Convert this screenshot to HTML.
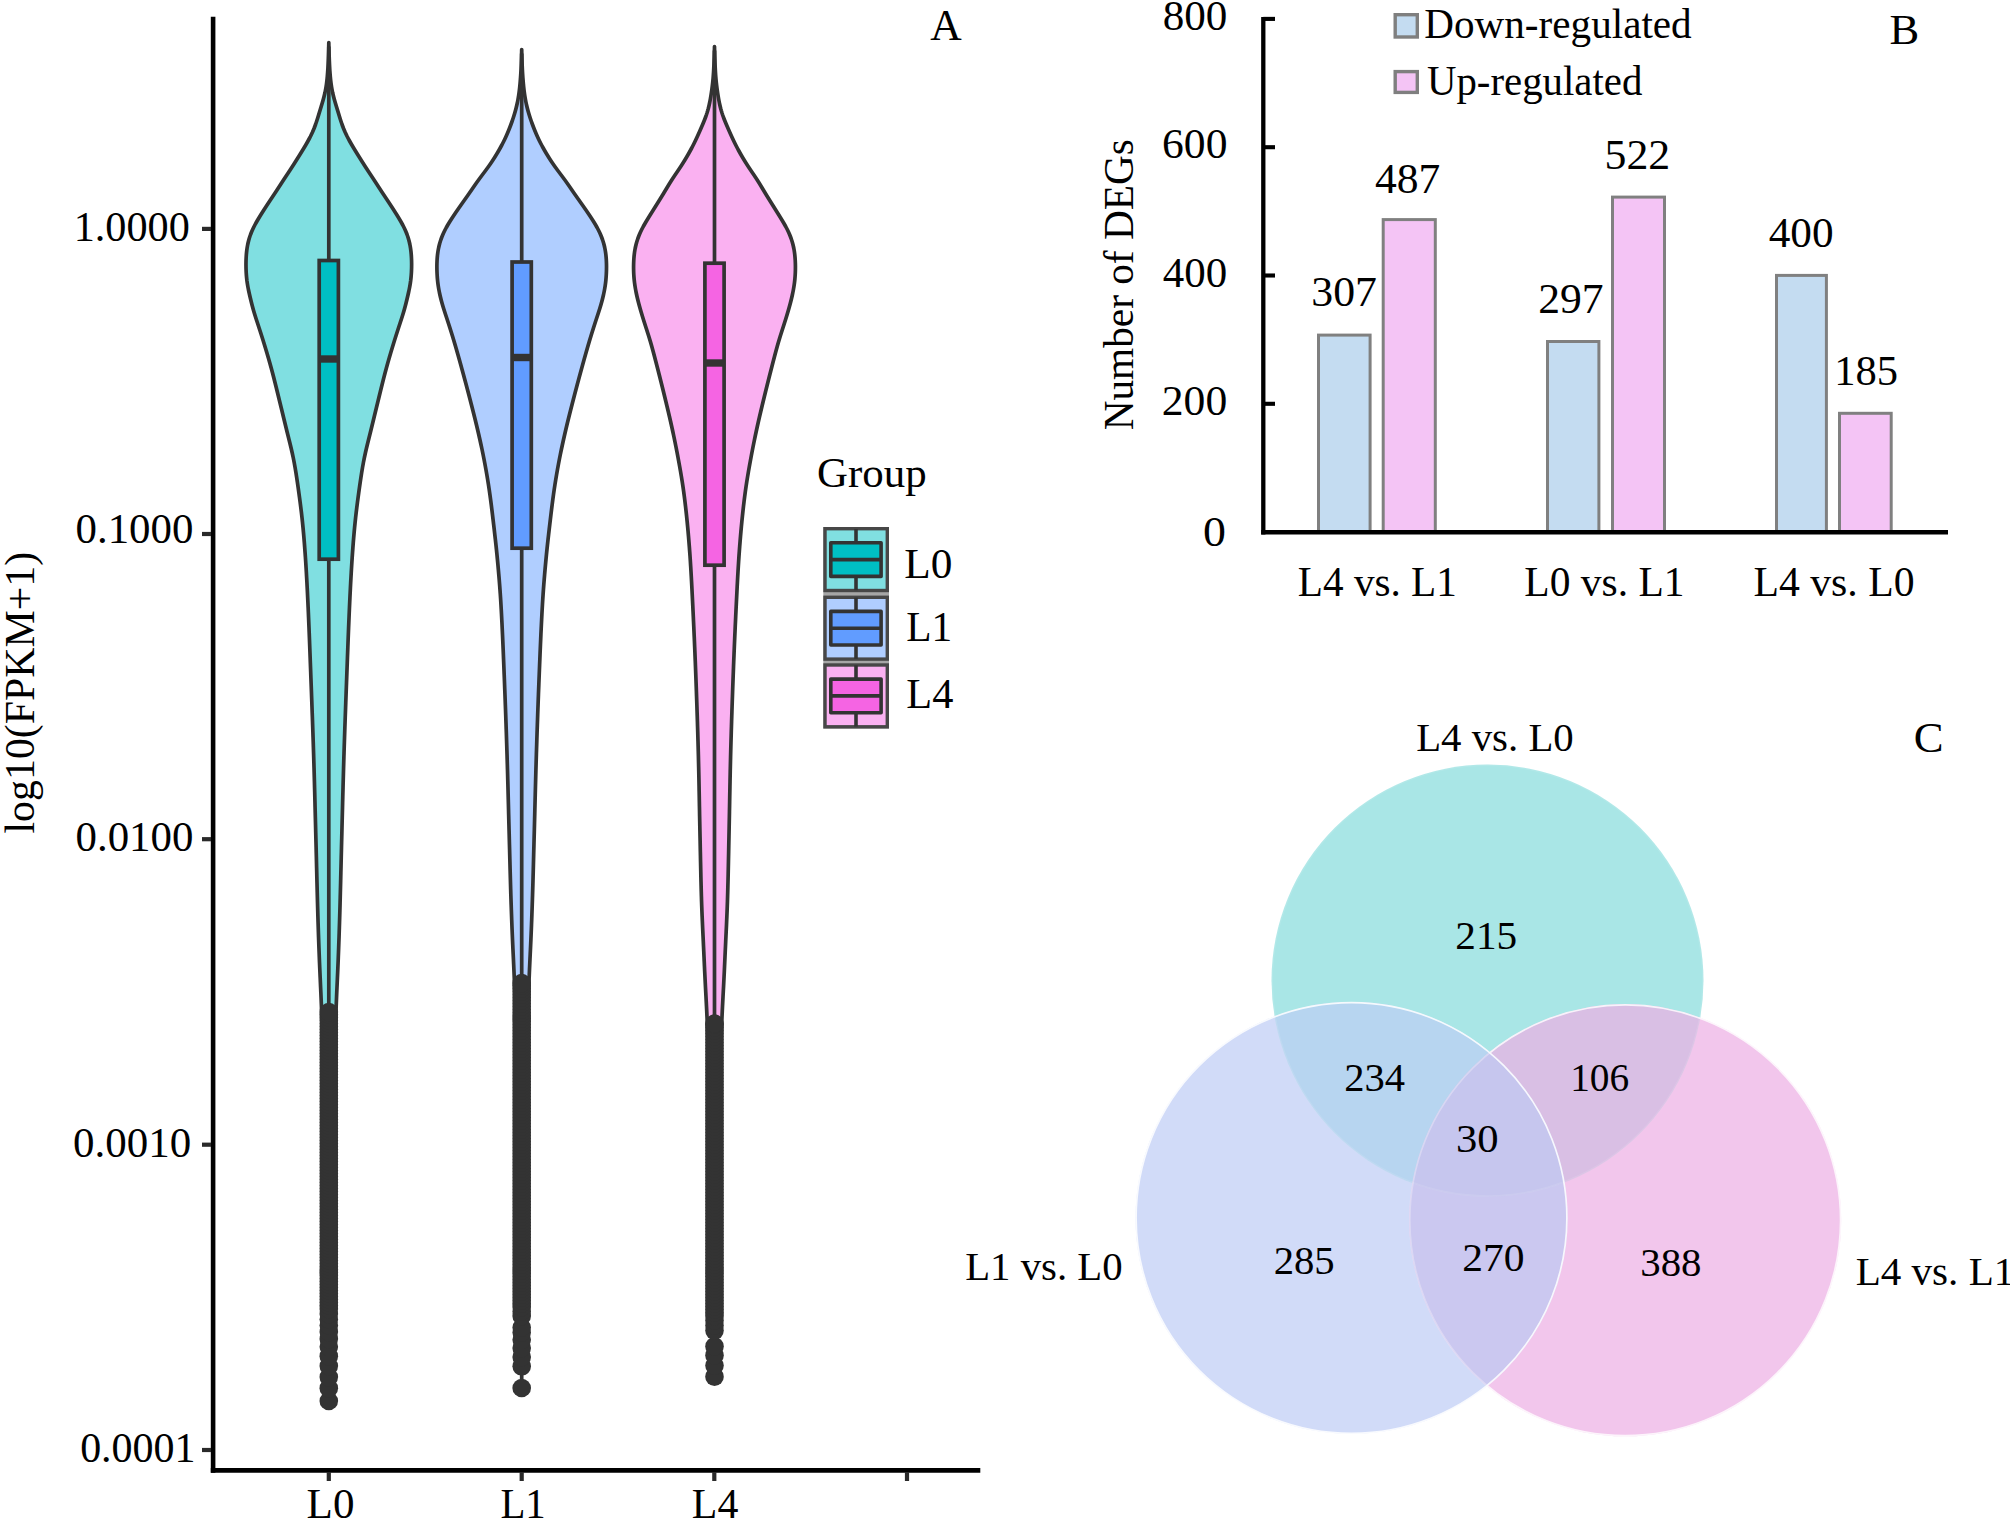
<!DOCTYPE html>
<html lang="en"><head><meta charset="utf-8"><title>Figure</title>
<style>html,body{margin:0;padding:0;background:#fff;}body{width:2010px;height:1522px;overflow:hidden;}svg{display:block;}text{font-family:'Liberation Serif', serif;fill:#000;}</style></head><body>
<svg width="2010" height="1522" viewBox="0 0 2010 1522">
<rect width="2010" height="1522" fill="#fff"/>
<g id="panelA">
<path d="M328.80,42.50 L328.83,44.50 L328.88,46.50 L328.92,48.50 L328.98,50.50 L329.04,52.50 L329.10,54.50 L329.17,56.50 L329.25,58.50 L329.32,60.50 L329.41,62.50 L329.50,64.50 L329.60,66.50 L329.71,68.50 L329.83,70.50 L329.97,72.50 L330.12,74.50 L330.28,76.50 L330.47,78.50 L330.68,80.50 L330.92,82.50 L331.19,84.50 L331.49,86.50 L331.83,88.50 L332.20,90.50 L332.60,92.50 L333.06,94.50 L333.55,96.50 L334.07,98.50 L334.63,100.50 L335.21,102.50 L335.81,104.50 L336.41,106.50 L337.02,108.50 L337.63,110.50 L338.24,112.50 L338.85,114.50 L339.45,116.50 L340.07,118.50 L340.71,120.50 L341.37,122.50 L342.06,124.50 L342.80,126.50 L343.57,128.50 L344.40,130.50 L345.28,132.50 L346.22,134.50 L347.20,136.50 L348.24,138.50 L349.32,140.50 L350.43,142.50 L351.58,144.50 L352.76,146.50 L353.96,148.50 L355.18,150.50 L356.41,152.50 L357.64,154.50 L358.89,156.50 L360.14,158.50 L361.40,160.50 L362.66,162.50 L363.93,164.50 L365.21,166.50 L366.51,168.50 L367.81,170.50 L369.13,172.50 L370.46,174.50 L371.79,176.50 L373.11,178.50 L374.42,180.50 L375.72,182.50 L377.02,184.50 L378.31,186.50 L379.61,188.50 L380.91,190.50 L382.22,192.50 L383.55,194.50 L384.88,196.50 L386.21,198.50 L387.54,200.50 L388.87,202.50 L390.18,204.50 L391.49,206.50 L392.79,208.50 L394.07,210.50 L395.34,212.50 L396.60,214.50 L397.83,216.50 L399.04,218.50 L400.23,220.50 L401.37,222.50 L402.47,224.50 L403.52,226.50 L404.50,228.50 L405.42,230.50 L406.27,232.50 L407.04,234.50 L407.75,236.50 L408.38,238.50 L408.94,240.50 L409.44,242.50 L409.88,244.50 L410.25,246.50 L410.57,248.50 L410.84,250.50 L411.06,252.50 L411.24,254.50 L411.38,256.50 L411.48,258.50 L411.56,260.50 L411.60,262.50 L411.62,264.50 L411.60,266.50 L411.56,268.50 L411.49,270.50 L411.40,272.50 L411.27,274.50 L411.11,276.50 L410.91,278.50 L410.69,280.50 L410.42,282.50 L410.11,284.50 L409.77,286.50 L409.39,288.50 L408.98,290.50 L408.55,292.50 L408.10,294.50 L407.64,296.50 L407.16,298.50 L406.68,300.50 L406.18,302.50 L405.68,304.50 L405.15,306.50 L404.61,308.50 L404.05,310.50 L403.46,312.50 L402.85,314.50 L402.23,316.50 L401.59,318.50 L400.94,320.50 L400.28,322.50 L399.63,324.50 L398.97,326.50 L398.32,328.50 L397.67,330.50 L397.02,332.50 L396.38,334.50 L395.74,336.50 L395.11,338.50 L394.48,340.50 L393.86,342.50 L392.33,347.50 L390.82,352.50 L389.35,357.50 L387.92,362.50 L386.53,367.50 L385.18,372.50 L383.87,377.50 L382.61,382.50 L381.36,387.50 L380.13,392.50 L378.91,397.50 L377.69,402.50 L376.46,407.50 L375.24,412.50 L374.03,417.50 L372.81,422.50 L371.59,427.50 L370.36,432.50 L369.11,437.50 L367.86,442.50 L366.64,447.50 L365.48,452.50 L364.40,457.50 L363.42,462.50 L362.52,467.50 L361.69,472.50 L360.92,477.50 L360.18,482.50 L359.46,487.50 L358.77,492.50 L358.09,497.50 L357.43,502.50 L356.80,507.50 L356.19,512.50 L355.62,517.50 L355.09,522.50 L354.59,527.50 L354.13,532.50 L353.69,537.50 L353.28,542.50 L352.90,547.50 L352.53,552.50 L352.18,557.50 L351.85,562.50 L351.54,567.50 L351.24,572.50 L350.96,577.50 L350.68,582.50 L350.42,587.50 L350.17,592.50 L349.93,597.50 L349.69,602.50 L349.46,607.50 L349.24,612.50 L349.03,617.50 L348.82,622.50 L348.61,627.50 L348.41,632.50 L348.21,637.50 L348.02,642.50 L347.83,647.50 L347.64,652.50 L347.45,657.50 L347.27,662.50 L347.08,667.50 L346.89,672.50 L346.71,677.50 L346.52,682.50 L346.33,687.50 L346.14,692.50 L345.96,697.50 L345.77,702.50 L345.59,707.50 L345.41,712.50 L345.22,717.50 L345.05,722.50 L344.87,727.50 L344.70,732.50 L344.53,737.50 L344.36,742.50 L344.20,747.50 L344.04,752.50 L343.88,757.50 L343.73,762.50 L343.58,767.50 L343.44,772.50 L343.30,777.50 L343.16,782.50 L343.03,787.50 L342.89,792.50 L342.76,797.50 L342.63,802.50 L342.51,807.50 L342.38,812.50 L342.25,817.50 L342.12,822.50 L341.99,827.50 L341.87,832.50 L341.74,837.50 L341.61,842.50 L341.48,847.50 L341.36,852.50 L341.23,857.50 L341.11,862.50 L340.99,867.50 L340.86,872.50 L340.74,877.50 L340.62,882.50 L340.49,887.50 L340.36,892.50 L340.23,897.50 L340.10,902.50 L339.96,907.50 L339.82,912.50 L339.67,917.50 L339.52,922.50 L339.36,927.50 L339.20,932.50 L339.03,937.50 L338.85,942.50 L338.67,947.50 L338.48,952.50 L338.29,957.50 L338.09,962.50 L337.88,967.50 L337.66,972.50 L337.43,977.50 L337.21,982.50 L336.98,987.50 L336.75,992.50 L336.54,997.50 L336.33,1002.50 L336.13,1007.50 L335.94,1012.50 L335.75,1017.50 L335.56,1022.50 L335.38,1027.50 L335.20,1032.50 L335.03,1037.50 L334.86,1042.50 L334.70,1047.50 L334.55,1052.50 L334.44,1057.50 L334.40,1059.50 L323.20,1059.50 L323.16,1057.50 L323.05,1052.50 L322.90,1047.50 L322.74,1042.50 L322.57,1037.50 L322.40,1032.50 L322.22,1027.50 L322.04,1022.50 L321.85,1017.50 L321.66,1012.50 L321.47,1007.50 L321.27,1002.50 L321.06,997.50 L320.85,992.50 L320.62,987.50 L320.39,982.50 L320.17,977.50 L319.94,972.50 L319.72,967.50 L319.51,962.50 L319.31,957.50 L319.12,952.50 L318.93,947.50 L318.75,942.50 L318.57,937.50 L318.40,932.50 L318.24,927.50 L318.08,922.50 L317.93,917.50 L317.78,912.50 L317.64,907.50 L317.50,902.50 L317.37,897.50 L317.24,892.50 L317.11,887.50 L316.98,882.50 L316.86,877.50 L316.74,872.50 L316.61,867.50 L316.49,862.50 L316.37,857.50 L316.24,852.50 L316.12,847.50 L315.99,842.50 L315.86,837.50 L315.73,832.50 L315.61,827.50 L315.48,822.50 L315.35,817.50 L315.22,812.50 L315.09,807.50 L314.97,802.50 L314.84,797.50 L314.71,792.50 L314.57,787.50 L314.44,782.50 L314.30,777.50 L314.16,772.50 L314.02,767.50 L313.87,762.50 L313.72,757.50 L313.56,752.50 L313.40,747.50 L313.24,742.50 L313.07,737.50 L312.90,732.50 L312.73,727.50 L312.55,722.50 L312.38,717.50 L312.19,712.50 L312.01,707.50 L311.83,702.50 L311.64,697.50 L311.46,692.50 L311.27,687.50 L311.08,682.50 L310.89,677.50 L310.71,672.50 L310.52,667.50 L310.33,662.50 L310.15,657.50 L309.96,652.50 L309.77,647.50 L309.58,642.50 L309.39,637.50 L309.19,632.50 L308.99,627.50 L308.78,622.50 L308.57,617.50 L308.36,612.50 L308.14,607.50 L307.91,602.50 L307.67,597.50 L307.43,592.50 L307.18,587.50 L306.92,582.50 L306.64,577.50 L306.36,572.50 L306.06,567.50 L305.75,562.50 L305.42,557.50 L305.07,552.50 L304.70,547.50 L304.32,542.50 L303.91,537.50 L303.47,532.50 L303.01,527.50 L302.51,522.50 L301.98,517.50 L301.41,512.50 L300.80,507.50 L300.17,502.50 L299.51,497.50 L298.83,492.50 L298.14,487.50 L297.42,482.50 L296.68,477.50 L295.91,472.50 L295.08,467.50 L294.18,462.50 L293.20,457.50 L292.12,452.50 L290.96,447.50 L289.74,442.50 L288.49,437.50 L287.24,432.50 L286.01,427.50 L284.79,422.50 L283.57,417.50 L282.36,412.50 L281.14,407.50 L279.91,402.50 L278.69,397.50 L277.47,392.50 L276.24,387.50 L274.99,382.50 L273.73,377.50 L272.42,372.50 L271.07,367.50 L269.68,362.50 L268.25,357.50 L266.78,352.50 L265.27,347.50 L263.74,342.50 L263.12,340.50 L262.49,338.50 L261.86,336.50 L261.22,334.50 L260.58,332.50 L259.93,330.50 L259.28,328.50 L258.63,326.50 L257.97,324.50 L257.32,322.50 L256.66,320.50 L256.01,318.50 L255.37,316.50 L254.75,314.50 L254.14,312.50 L253.55,310.50 L252.99,308.50 L252.45,306.50 L251.92,304.50 L251.42,302.50 L250.92,300.50 L250.44,298.50 L249.96,296.50 L249.50,294.50 L249.05,292.50 L248.62,290.50 L248.21,288.50 L247.83,286.50 L247.49,284.50 L247.18,282.50 L246.91,280.50 L246.69,278.50 L246.49,276.50 L246.33,274.50 L246.20,272.50 L246.11,270.50 L246.04,268.50 L246.00,266.50 L245.98,264.50 L246.00,262.50 L246.04,260.50 L246.12,258.50 L246.22,256.50 L246.36,254.50 L246.54,252.50 L246.76,250.50 L247.03,248.50 L247.35,246.50 L247.72,244.50 L248.16,242.50 L248.66,240.50 L249.22,238.50 L249.85,236.50 L250.56,234.50 L251.33,232.50 L252.18,230.50 L253.10,228.50 L254.08,226.50 L255.13,224.50 L256.23,222.50 L257.37,220.50 L258.56,218.50 L259.77,216.50 L261.00,214.50 L262.26,212.50 L263.53,210.50 L264.81,208.50 L266.11,206.50 L267.42,204.50 L268.73,202.50 L270.06,200.50 L271.39,198.50 L272.72,196.50 L274.05,194.50 L275.38,192.50 L276.69,190.50 L277.99,188.50 L279.29,186.50 L280.58,184.50 L281.88,182.50 L283.18,180.50 L284.49,178.50 L285.81,176.50 L287.14,174.50 L288.47,172.50 L289.79,170.50 L291.09,168.50 L292.39,166.50 L293.67,164.50 L294.94,162.50 L296.20,160.50 L297.46,158.50 L298.71,156.50 L299.96,154.50 L301.19,152.50 L302.42,150.50 L303.64,148.50 L304.84,146.50 L306.02,144.50 L307.17,142.50 L308.28,140.50 L309.36,138.50 L310.40,136.50 L311.38,134.50 L312.32,132.50 L313.20,130.50 L314.03,128.50 L314.80,126.50 L315.54,124.50 L316.23,122.50 L316.89,120.50 L317.53,118.50 L318.15,116.50 L318.75,114.50 L319.36,112.50 L319.97,110.50 L320.58,108.50 L321.19,106.50 L321.79,104.50 L322.39,102.50 L322.97,100.50 L323.53,98.50 L324.05,96.50 L324.54,94.50 L325.00,92.50 L325.40,90.50 L325.77,88.50 L326.11,86.50 L326.41,84.50 L326.68,82.50 L326.92,80.50 L327.13,78.50 L327.32,76.50 L327.48,74.50 L327.63,72.50 L327.77,70.50 L327.89,68.50 L328.00,66.50 L328.10,64.50 L328.19,62.50 L328.28,60.50 L328.35,58.50 L328.43,56.50 L328.50,54.50 L328.56,52.50 L328.62,50.50 L328.68,48.50 L328.72,46.50 L328.77,44.50 Z" fill="#80DFE1" stroke="#333333" stroke-width="3.7" stroke-linejoin="round"/>
<line x1="328.80" y1="46.5" x2="328.80" y2="260.5" stroke="#333333" stroke-width="3.7"/>
<line x1="328.80" y1="559.2" x2="328.80" y2="1008.0" stroke="#333333" stroke-width="3.7"/>
<rect x="319.20" y="260.5" width="19.2" height="298.7" fill="#00BFC4" stroke="#333333" stroke-width="3.7" stroke-linejoin="miter"/>
<line x1="319.20" y1="359.0" x2="338.40" y2="359.0" stroke="#333333" stroke-width="7.4"/>
<line x1="328.80" y1="1003.0" x2="328.80" y2="1401.0" stroke="#333333" stroke-width="3.7"/>
<g fill="#333333"><circle cx="328.80" cy="1401.0" r="9.3"/><circle cx="328.80" cy="1388.2" r="9.3"/><circle cx="328.80" cy="1377.1" r="9.3"/><circle cx="328.80" cy="1366.0" r="9.3"/><circle cx="328.80" cy="1356.2" r="9.3"/><circle cx="328.80" cy="1346.8" r="9.3"/><circle cx="328.80" cy="1339.0" r="9.3"/><circle cx="328.80" cy="1332.0" r="9.3"/><circle cx="328.80" cy="1325.5" r="9.3"/><circle cx="328.80" cy="1319.5" r="9.3"/><circle cx="328.80" cy="1314.0" r="9.3"/><circle cx="328.80" cy="1309.0" r="9.3"/><circle cx="328.80" cy="1305.5" r="9.3"/><circle cx="328.80" cy="1302.5" r="9.3"/><circle cx="328.80" cy="1299.5" r="9.3"/><circle cx="328.80" cy="1296.5" r="9.3"/><circle cx="328.80" cy="1293.5" r="9.3"/><circle cx="328.80" cy="1290.5" r="9.3"/><circle cx="328.80" cy="1287.5" r="9.3"/><circle cx="328.80" cy="1284.5" r="9.3"/><circle cx="328.80" cy="1281.5" r="9.3"/><circle cx="328.80" cy="1278.5" r="9.3"/><circle cx="328.80" cy="1275.5" r="9.3"/><circle cx="328.80" cy="1272.5" r="9.3"/><circle cx="328.80" cy="1269.5" r="9.3"/><circle cx="328.80" cy="1266.5" r="9.3"/><circle cx="328.80" cy="1263.5" r="9.3"/><circle cx="328.80" cy="1260.5" r="9.3"/><circle cx="328.80" cy="1257.5" r="9.3"/><circle cx="328.80" cy="1254.5" r="9.3"/><circle cx="328.80" cy="1251.5" r="9.3"/><circle cx="328.80" cy="1248.5" r="9.3"/><circle cx="328.80" cy="1245.5" r="9.3"/><circle cx="328.80" cy="1242.5" r="9.3"/><circle cx="328.80" cy="1239.5" r="9.3"/><circle cx="328.80" cy="1236.5" r="9.3"/><circle cx="328.80" cy="1233.5" r="9.3"/><circle cx="328.80" cy="1230.5" r="9.3"/><circle cx="328.80" cy="1227.5" r="9.3"/><circle cx="328.80" cy="1224.5" r="9.3"/><circle cx="328.80" cy="1221.5" r="9.3"/><circle cx="328.80" cy="1218.5" r="9.3"/><circle cx="328.80" cy="1215.5" r="9.3"/><circle cx="328.80" cy="1212.5" r="9.3"/><circle cx="328.80" cy="1209.5" r="9.3"/><circle cx="328.80" cy="1206.5" r="9.3"/><circle cx="328.80" cy="1203.5" r="9.3"/><circle cx="328.80" cy="1200.5" r="9.3"/><circle cx="328.80" cy="1197.5" r="9.3"/><circle cx="328.80" cy="1194.5" r="9.3"/><circle cx="328.80" cy="1191.5" r="9.3"/><circle cx="328.80" cy="1188.5" r="9.3"/><circle cx="328.80" cy="1185.5" r="9.3"/><circle cx="328.80" cy="1182.5" r="9.3"/><circle cx="328.80" cy="1179.5" r="9.3"/><circle cx="328.80" cy="1176.5" r="9.3"/><circle cx="328.80" cy="1173.5" r="9.3"/><circle cx="328.80" cy="1170.5" r="9.3"/><circle cx="328.80" cy="1167.5" r="9.3"/><circle cx="328.80" cy="1164.5" r="9.3"/><circle cx="328.80" cy="1161.5" r="9.3"/><circle cx="328.80" cy="1158.5" r="9.3"/><circle cx="328.80" cy="1155.5" r="9.3"/><circle cx="328.80" cy="1152.5" r="9.3"/><circle cx="328.80" cy="1149.5" r="9.3"/><circle cx="328.80" cy="1146.5" r="9.3"/><circle cx="328.80" cy="1143.5" r="9.3"/><circle cx="328.80" cy="1140.5" r="9.3"/><circle cx="328.80" cy="1137.5" r="9.3"/><circle cx="328.80" cy="1134.5" r="9.3"/><circle cx="328.80" cy="1131.5" r="9.3"/><circle cx="328.80" cy="1128.5" r="9.3"/><circle cx="328.80" cy="1125.5" r="9.3"/><circle cx="328.80" cy="1122.5" r="9.3"/><circle cx="328.80" cy="1119.5" r="9.3"/><circle cx="328.80" cy="1116.5" r="9.3"/><circle cx="328.80" cy="1113.5" r="9.3"/><circle cx="328.80" cy="1110.5" r="9.3"/><circle cx="328.80" cy="1107.5" r="9.3"/><circle cx="328.80" cy="1104.5" r="9.3"/><circle cx="328.80" cy="1101.5" r="9.3"/><circle cx="328.80" cy="1098.5" r="9.3"/><circle cx="328.80" cy="1095.5" r="9.3"/><circle cx="328.80" cy="1092.5" r="9.3"/><circle cx="328.80" cy="1089.5" r="9.3"/><circle cx="328.80" cy="1086.5" r="9.3"/><circle cx="328.80" cy="1083.5" r="9.3"/><circle cx="328.80" cy="1080.5" r="9.3"/><circle cx="328.80" cy="1077.5" r="9.3"/><circle cx="328.80" cy="1074.5" r="9.3"/><circle cx="328.80" cy="1071.5" r="9.3"/><circle cx="328.80" cy="1068.5" r="9.3"/><circle cx="328.80" cy="1065.5" r="9.3"/><circle cx="328.80" cy="1062.5" r="9.3"/><circle cx="328.80" cy="1059.5" r="9.3"/><circle cx="328.80" cy="1056.5" r="9.3"/><circle cx="328.80" cy="1053.5" r="9.3"/><circle cx="328.80" cy="1050.5" r="9.3"/><circle cx="328.80" cy="1047.5" r="9.3"/><circle cx="328.80" cy="1044.5" r="9.3"/><circle cx="328.80" cy="1041.5" r="9.3"/><circle cx="328.80" cy="1038.5" r="9.3"/><circle cx="328.80" cy="1035.5" r="9.3"/><circle cx="328.80" cy="1032.5" r="9.3"/><circle cx="328.80" cy="1029.5" r="9.3"/><circle cx="328.80" cy="1026.5" r="9.3"/><circle cx="328.80" cy="1023.5" r="9.3"/><circle cx="328.80" cy="1020.5" r="9.3"/><circle cx="328.80" cy="1017.5" r="9.3"/><circle cx="328.80" cy="1014.5" r="9.3"/><circle cx="328.80" cy="1012.0" r="9.3"/></g>
<path d="M521.70,49.50 L521.74,51.50 L521.78,53.50 L521.83,55.50 L521.89,57.50 L521.96,59.50 L522.03,61.50 L522.10,63.50 L522.18,65.50 L522.27,67.50 L522.36,69.50 L522.47,71.50 L522.59,73.50 L522.72,75.50 L522.85,77.50 L523.00,79.50 L523.16,81.50 L523.33,83.50 L523.52,85.50 L523.72,87.50 L523.94,89.50 L524.19,91.50 L524.46,93.50 L524.76,95.50 L525.08,97.50 L525.43,99.50 L525.81,101.50 L526.22,103.50 L526.67,105.50 L527.15,107.50 L527.66,109.50 L528.21,111.50 L528.79,113.50 L529.40,115.50 L530.03,117.50 L530.70,119.50 L531.39,121.50 L532.11,123.50 L532.85,125.50 L533.61,127.50 L534.40,129.50 L535.22,131.50 L536.06,133.50 L536.93,135.50 L537.83,137.50 L538.77,139.50 L539.75,141.50 L540.77,143.50 L541.83,145.50 L542.92,147.50 L544.04,149.50 L545.19,151.50 L546.37,153.50 L547.59,155.50 L548.83,157.50 L550.10,159.50 L551.41,161.50 L552.76,163.50 L554.15,165.50 L555.58,167.50 L557.04,169.50 L558.53,171.50 L560.03,173.50 L561.54,175.50 L563.03,177.50 L564.51,179.50 L565.96,181.50 L567.38,183.50 L568.78,185.50 L570.16,187.50 L571.53,189.50 L572.91,191.50 L574.30,193.50 L575.70,195.50 L577.11,197.50 L578.53,199.50 L579.94,201.50 L581.36,203.50 L582.77,205.50 L584.17,207.50 L585.56,209.50 L586.94,211.50 L588.30,213.50 L589.64,215.50 L590.96,217.50 L592.26,219.50 L593.53,221.50 L594.76,223.50 L595.94,225.50 L597.07,227.50 L598.14,229.50 L599.14,231.50 L600.08,233.50 L600.94,235.50 L601.74,237.50 L602.46,239.50 L603.12,241.50 L603.72,243.50 L604.24,245.50 L604.70,247.50 L605.10,249.50 L605.44,251.50 L605.72,253.50 L605.96,255.50 L606.14,257.50 L606.29,259.50 L606.39,261.50 L606.46,263.50 L606.50,265.50 L606.50,267.50 L606.48,269.50 L606.42,271.50 L606.34,273.50 L606.23,275.50 L606.10,277.50 L605.93,279.50 L605.73,281.50 L605.49,283.50 L605.22,285.50 L604.91,287.50 L604.56,289.50 L604.18,291.50 L603.77,293.50 L603.33,295.50 L602.85,297.50 L602.36,299.50 L601.83,301.50 L601.27,303.50 L600.70,305.50 L600.09,307.50 L599.47,309.50 L598.83,311.50 L598.18,313.50 L597.53,315.50 L596.87,317.50 L596.21,319.50 L595.56,321.50 L594.91,323.50 L594.26,325.50 L593.62,327.50 L592.99,329.50 L592.36,331.50 L591.73,333.50 L591.11,335.50 L590.50,337.50 L589.89,339.50 L589.29,341.50 L588.70,343.50 L588.11,345.50 L587.53,347.50 L586.95,349.50 L585.52,354.50 L584.11,359.50 L582.72,364.50 L581.35,369.50 L579.98,374.50 L578.63,379.50 L577.28,384.50 L575.96,389.50 L574.64,394.50 L573.34,399.50 L572.05,404.50 L570.77,409.50 L569.50,414.50 L568.25,419.50 L567.03,424.50 L565.84,429.50 L564.68,434.50 L563.54,439.50 L562.44,444.50 L561.36,449.50 L560.33,454.50 L559.34,459.50 L558.39,464.50 L557.48,469.50 L556.60,474.50 L555.77,479.50 L554.97,484.50 L554.21,489.50 L553.50,494.50 L552.82,499.50 L552.17,504.50 L551.55,509.50 L550.94,514.50 L550.35,519.50 L549.76,524.50 L549.18,529.50 L548.61,534.50 L548.04,539.50 L547.49,544.50 L546.96,549.50 L546.45,554.50 L545.97,559.50 L545.50,564.50 L545.05,569.50 L544.62,574.50 L544.20,579.50 L543.80,584.50 L543.43,589.50 L543.08,594.50 L542.75,599.50 L542.45,604.50 L542.16,609.50 L541.89,614.50 L541.63,619.50 L541.38,624.50 L541.14,629.50 L540.90,634.50 L540.68,639.50 L540.46,644.50 L540.24,649.50 L540.03,654.50 L539.83,659.50 L539.62,664.50 L539.42,669.50 L539.22,674.50 L539.02,679.50 L538.83,684.50 L538.63,689.50 L538.44,694.50 L538.25,699.50 L538.07,704.50 L537.88,709.50 L537.70,714.50 L537.53,719.50 L537.35,724.50 L537.18,729.50 L537.01,734.50 L536.85,739.50 L536.69,744.50 L536.53,749.50 L536.37,754.50 L536.22,759.50 L536.07,764.50 L535.92,769.50 L535.78,774.50 L535.65,779.50 L535.51,784.50 L535.38,789.50 L535.25,794.50 L535.12,799.50 L534.99,804.50 L534.86,809.50 L534.74,814.50 L534.61,819.50 L534.48,824.50 L534.35,829.50 L534.21,834.50 L534.08,839.50 L533.95,844.50 L533.81,849.50 L533.68,854.50 L533.55,859.50 L533.42,864.50 L533.29,869.50 L533.15,874.50 L533.01,879.50 L532.87,884.50 L532.72,889.50 L532.57,894.50 L532.41,899.50 L532.24,904.50 L532.07,909.50 L531.89,914.50 L531.71,919.50 L531.52,924.50 L531.32,929.50 L531.11,934.50 L530.90,939.50 L530.67,944.50 L530.44,949.50 L530.20,954.50 L529.96,959.50 L529.73,964.50 L529.50,969.50 L529.29,974.50 L529.08,979.50 L528.87,984.50 L528.67,989.50 L528.48,994.50 L528.28,999.50 L528.10,1004.50 L527.91,1009.50 L527.73,1014.50 L527.56,1019.50 L527.42,1024.50 L527.31,1029.50 L516.09,1029.50 L515.98,1024.50 L515.84,1019.50 L515.67,1014.50 L515.49,1009.50 L515.30,1004.50 L515.12,999.50 L514.92,994.50 L514.73,989.50 L514.53,984.50 L514.32,979.50 L514.11,974.50 L513.90,969.50 L513.67,964.50 L513.44,959.50 L513.20,954.50 L512.96,949.50 L512.73,944.50 L512.50,939.50 L512.29,934.50 L512.08,929.50 L511.88,924.50 L511.69,919.50 L511.51,914.50 L511.33,909.50 L511.16,904.50 L510.99,899.50 L510.83,894.50 L510.68,889.50 L510.53,884.50 L510.39,879.50 L510.25,874.50 L510.11,869.50 L509.98,864.50 L509.85,859.50 L509.72,854.50 L509.59,849.50 L509.45,844.50 L509.32,839.50 L509.19,834.50 L509.05,829.50 L508.92,824.50 L508.79,819.50 L508.66,814.50 L508.54,809.50 L508.41,804.50 L508.28,799.50 L508.15,794.50 L508.02,789.50 L507.89,784.50 L507.75,779.50 L507.62,774.50 L507.48,769.50 L507.33,764.50 L507.18,759.50 L507.03,754.50 L506.87,749.50 L506.71,744.50 L506.55,739.50 L506.39,734.50 L506.22,729.50 L506.05,724.50 L505.87,719.50 L505.70,714.50 L505.52,709.50 L505.33,704.50 L505.15,699.50 L504.96,694.50 L504.77,689.50 L504.57,684.50 L504.38,679.50 L504.18,674.50 L503.98,669.50 L503.78,664.50 L503.57,659.50 L503.37,654.50 L503.16,649.50 L502.94,644.50 L502.72,639.50 L502.50,634.50 L502.26,629.50 L502.02,624.50 L501.77,619.50 L501.51,614.50 L501.24,609.50 L500.95,604.50 L500.65,599.50 L500.32,594.50 L499.97,589.50 L499.60,584.50 L499.20,579.50 L498.78,574.50 L498.35,569.50 L497.90,564.50 L497.43,559.50 L496.95,554.50 L496.44,549.50 L495.91,544.50 L495.36,539.50 L494.79,534.50 L494.22,529.50 L493.64,524.50 L493.05,519.50 L492.46,514.50 L491.85,509.50 L491.23,504.50 L490.58,499.50 L489.90,494.50 L489.19,489.50 L488.43,484.50 L487.63,479.50 L486.80,474.50 L485.92,469.50 L485.01,464.50 L484.06,459.50 L483.07,454.50 L482.04,449.50 L480.96,444.50 L479.86,439.50 L478.72,434.50 L477.56,429.50 L476.37,424.50 L475.15,419.50 L473.90,414.50 L472.63,409.50 L471.35,404.50 L470.06,399.50 L468.76,394.50 L467.44,389.50 L466.12,384.50 L464.77,379.50 L463.42,374.50 L462.05,369.50 L460.68,364.50 L459.29,359.50 L457.88,354.50 L456.45,349.50 L455.87,347.50 L455.29,345.50 L454.70,343.50 L454.11,341.50 L453.51,339.50 L452.90,337.50 L452.29,335.50 L451.67,333.50 L451.04,331.50 L450.41,329.50 L449.78,327.50 L449.14,325.50 L448.49,323.50 L447.84,321.50 L447.19,319.50 L446.53,317.50 L445.87,315.50 L445.22,313.50 L444.57,311.50 L443.93,309.50 L443.31,307.50 L442.70,305.50 L442.13,303.50 L441.57,301.50 L441.04,299.50 L440.55,297.50 L440.07,295.50 L439.63,293.50 L439.22,291.50 L438.84,289.50 L438.49,287.50 L438.18,285.50 L437.91,283.50 L437.67,281.50 L437.47,279.50 L437.30,277.50 L437.17,275.50 L437.06,273.50 L436.98,271.50 L436.92,269.50 L436.90,267.50 L436.90,265.50 L436.94,263.50 L437.01,261.50 L437.11,259.50 L437.26,257.50 L437.44,255.50 L437.68,253.50 L437.96,251.50 L438.30,249.50 L438.70,247.50 L439.16,245.50 L439.68,243.50 L440.28,241.50 L440.94,239.50 L441.66,237.50 L442.46,235.50 L443.32,233.50 L444.26,231.50 L445.26,229.50 L446.33,227.50 L447.46,225.50 L448.64,223.50 L449.87,221.50 L451.14,219.50 L452.44,217.50 L453.76,215.50 L455.10,213.50 L456.46,211.50 L457.84,209.50 L459.23,207.50 L460.63,205.50 L462.04,203.50 L463.46,201.50 L464.87,199.50 L466.29,197.50 L467.70,195.50 L469.10,193.50 L470.49,191.50 L471.87,189.50 L473.24,187.50 L474.62,185.50 L476.02,183.50 L477.44,181.50 L478.89,179.50 L480.37,177.50 L481.86,175.50 L483.37,173.50 L484.87,171.50 L486.36,169.50 L487.82,167.50 L489.25,165.50 L490.64,163.50 L491.99,161.50 L493.30,159.50 L494.57,157.50 L495.81,155.50 L497.03,153.50 L498.21,151.50 L499.36,149.50 L500.48,147.50 L501.57,145.50 L502.63,143.50 L503.65,141.50 L504.63,139.50 L505.57,137.50 L506.47,135.50 L507.34,133.50 L508.18,131.50 L509.00,129.50 L509.79,127.50 L510.55,125.50 L511.29,123.50 L512.01,121.50 L512.70,119.50 L513.37,117.50 L514.00,115.50 L514.61,113.50 L515.19,111.50 L515.74,109.50 L516.25,107.50 L516.73,105.50 L517.18,103.50 L517.59,101.50 L517.97,99.50 L518.32,97.50 L518.64,95.50 L518.94,93.50 L519.21,91.50 L519.46,89.50 L519.68,87.50 L519.88,85.50 L520.07,83.50 L520.24,81.50 L520.40,79.50 L520.55,77.50 L520.68,75.50 L520.81,73.50 L520.93,71.50 L521.04,69.50 L521.13,67.50 L521.22,65.50 L521.30,63.50 L521.37,61.50 L521.44,59.50 L521.51,57.50 L521.57,55.50 L521.62,53.50 L521.66,51.50 Z" fill="#B0CEFF" stroke="#333333" stroke-width="3.7" stroke-linejoin="round"/>
<line x1="521.70" y1="53.5" x2="521.70" y2="262.0" stroke="#333333" stroke-width="3.7"/>
<line x1="521.70" y1="548.2" x2="521.70" y2="980.0" stroke="#333333" stroke-width="3.7"/>
<rect x="512.10" y="262.0" width="19.2" height="286.2" fill="#619CFF" stroke="#333333" stroke-width="3.7" stroke-linejoin="miter"/>
<line x1="512.10" y1="357.5" x2="531.30" y2="357.5" stroke="#333333" stroke-width="7.4"/>
<line x1="521.70" y1="974.0" x2="521.70" y2="1388.0" stroke="#333333" stroke-width="3.7"/>
<g fill="#333333"><circle cx="521.70" cy="1388.0" r="9.3"/><circle cx="521.70" cy="1366.3" r="9.3"/><circle cx="521.70" cy="1356.9" r="9.3"/><circle cx="521.70" cy="1347.9" r="9.3"/><circle cx="521.70" cy="1339.8" r="9.3"/><circle cx="521.70" cy="1332.5" r="9.3"/><circle cx="521.70" cy="1327.5" r="9.3"/><circle cx="521.70" cy="1316.0" r="9.3"/><circle cx="521.70" cy="1311.5" r="9.3"/><circle cx="521.70" cy="1307.0" r="9.3"/><circle cx="521.70" cy="1303.5" r="9.3"/><circle cx="521.70" cy="1300.5" r="9.3"/><circle cx="521.70" cy="1297.5" r="9.3"/><circle cx="521.70" cy="1294.5" r="9.3"/><circle cx="521.70" cy="1291.5" r="9.3"/><circle cx="521.70" cy="1288.5" r="9.3"/><circle cx="521.70" cy="1285.5" r="9.3"/><circle cx="521.70" cy="1282.5" r="9.3"/><circle cx="521.70" cy="1279.5" r="9.3"/><circle cx="521.70" cy="1276.5" r="9.3"/><circle cx="521.70" cy="1273.5" r="9.3"/><circle cx="521.70" cy="1270.5" r="9.3"/><circle cx="521.70" cy="1267.5" r="9.3"/><circle cx="521.70" cy="1264.5" r="9.3"/><circle cx="521.70" cy="1261.5" r="9.3"/><circle cx="521.70" cy="1258.5" r="9.3"/><circle cx="521.70" cy="1255.5" r="9.3"/><circle cx="521.70" cy="1252.5" r="9.3"/><circle cx="521.70" cy="1249.5" r="9.3"/><circle cx="521.70" cy="1246.5" r="9.3"/><circle cx="521.70" cy="1243.5" r="9.3"/><circle cx="521.70" cy="1240.5" r="9.3"/><circle cx="521.70" cy="1237.5" r="9.3"/><circle cx="521.70" cy="1234.5" r="9.3"/><circle cx="521.70" cy="1231.5" r="9.3"/><circle cx="521.70" cy="1228.5" r="9.3"/><circle cx="521.70" cy="1225.5" r="9.3"/><circle cx="521.70" cy="1222.5" r="9.3"/><circle cx="521.70" cy="1219.5" r="9.3"/><circle cx="521.70" cy="1216.5" r="9.3"/><circle cx="521.70" cy="1213.5" r="9.3"/><circle cx="521.70" cy="1210.5" r="9.3"/><circle cx="521.70" cy="1207.5" r="9.3"/><circle cx="521.70" cy="1204.5" r="9.3"/><circle cx="521.70" cy="1201.5" r="9.3"/><circle cx="521.70" cy="1198.5" r="9.3"/><circle cx="521.70" cy="1195.5" r="9.3"/><circle cx="521.70" cy="1192.5" r="9.3"/><circle cx="521.70" cy="1189.5" r="9.3"/><circle cx="521.70" cy="1186.5" r="9.3"/><circle cx="521.70" cy="1183.5" r="9.3"/><circle cx="521.70" cy="1180.5" r="9.3"/><circle cx="521.70" cy="1177.5" r="9.3"/><circle cx="521.70" cy="1174.5" r="9.3"/><circle cx="521.70" cy="1171.5" r="9.3"/><circle cx="521.70" cy="1168.5" r="9.3"/><circle cx="521.70" cy="1165.5" r="9.3"/><circle cx="521.70" cy="1162.5" r="9.3"/><circle cx="521.70" cy="1159.5" r="9.3"/><circle cx="521.70" cy="1156.5" r="9.3"/><circle cx="521.70" cy="1153.5" r="9.3"/><circle cx="521.70" cy="1150.5" r="9.3"/><circle cx="521.70" cy="1147.5" r="9.3"/><circle cx="521.70" cy="1144.5" r="9.3"/><circle cx="521.70" cy="1141.5" r="9.3"/><circle cx="521.70" cy="1138.5" r="9.3"/><circle cx="521.70" cy="1135.5" r="9.3"/><circle cx="521.70" cy="1132.5" r="9.3"/><circle cx="521.70" cy="1129.5" r="9.3"/><circle cx="521.70" cy="1126.5" r="9.3"/><circle cx="521.70" cy="1123.5" r="9.3"/><circle cx="521.70" cy="1120.5" r="9.3"/><circle cx="521.70" cy="1117.5" r="9.3"/><circle cx="521.70" cy="1114.5" r="9.3"/><circle cx="521.70" cy="1111.5" r="9.3"/><circle cx="521.70" cy="1108.5" r="9.3"/><circle cx="521.70" cy="1105.5" r="9.3"/><circle cx="521.70" cy="1102.5" r="9.3"/><circle cx="521.70" cy="1099.5" r="9.3"/><circle cx="521.70" cy="1096.5" r="9.3"/><circle cx="521.70" cy="1093.5" r="9.3"/><circle cx="521.70" cy="1090.5" r="9.3"/><circle cx="521.70" cy="1087.5" r="9.3"/><circle cx="521.70" cy="1084.5" r="9.3"/><circle cx="521.70" cy="1081.5" r="9.3"/><circle cx="521.70" cy="1078.5" r="9.3"/><circle cx="521.70" cy="1075.5" r="9.3"/><circle cx="521.70" cy="1072.5" r="9.3"/><circle cx="521.70" cy="1069.5" r="9.3"/><circle cx="521.70" cy="1066.5" r="9.3"/><circle cx="521.70" cy="1063.5" r="9.3"/><circle cx="521.70" cy="1060.5" r="9.3"/><circle cx="521.70" cy="1057.5" r="9.3"/><circle cx="521.70" cy="1054.5" r="9.3"/><circle cx="521.70" cy="1051.5" r="9.3"/><circle cx="521.70" cy="1048.5" r="9.3"/><circle cx="521.70" cy="1045.5" r="9.3"/><circle cx="521.70" cy="1042.5" r="9.3"/><circle cx="521.70" cy="1039.5" r="9.3"/><circle cx="521.70" cy="1036.5" r="9.3"/><circle cx="521.70" cy="1033.5" r="9.3"/><circle cx="521.70" cy="1030.5" r="9.3"/><circle cx="521.70" cy="1027.5" r="9.3"/><circle cx="521.70" cy="1024.5" r="9.3"/><circle cx="521.70" cy="1021.5" r="9.3"/><circle cx="521.70" cy="1018.5" r="9.3"/><circle cx="521.70" cy="1015.5" r="9.3"/><circle cx="521.70" cy="1012.5" r="9.3"/><circle cx="521.70" cy="1009.5" r="9.3"/><circle cx="521.70" cy="1006.5" r="9.3"/><circle cx="521.70" cy="1003.5" r="9.3"/><circle cx="521.70" cy="1000.5" r="9.3"/><circle cx="521.70" cy="997.5" r="9.3"/><circle cx="521.70" cy="994.5" r="9.3"/><circle cx="521.70" cy="991.5" r="9.3"/><circle cx="521.70" cy="988.5" r="9.3"/><circle cx="521.70" cy="985.5" r="9.3"/><circle cx="521.70" cy="983.0" r="9.3"/></g>
<path d="M714.50,46.50 L714.54,48.50 L714.59,50.50 L714.64,52.50 L714.70,54.50 L714.76,56.50 L714.83,58.50 L714.91,60.50 L714.98,62.50 L715.06,64.50 L715.15,66.50 L715.25,68.50 L715.35,70.50 L715.47,72.50 L715.60,74.50 L715.74,76.50 L715.90,78.50 L716.09,80.50 L716.29,82.50 L716.52,84.50 L716.76,86.50 L717.02,88.50 L717.29,90.50 L717.58,92.50 L717.89,94.50 L718.21,96.50 L718.55,98.50 L718.92,100.50 L719.31,102.50 L719.73,104.50 L720.19,106.50 L720.69,108.50 L721.24,110.50 L721.84,112.50 L722.49,114.50 L723.19,116.50 L723.93,118.50 L724.71,120.50 L725.53,122.50 L726.37,124.50 L727.23,126.50 L728.10,128.50 L728.97,130.50 L729.86,132.50 L730.76,134.50 L731.66,136.50 L732.59,138.50 L733.53,140.50 L734.50,142.50 L735.49,144.50 L736.51,146.50 L737.56,148.50 L738.64,150.50 L739.75,152.50 L740.88,154.50 L742.04,156.50 L743.23,158.50 L744.44,160.50 L745.67,162.50 L746.94,164.50 L748.23,166.50 L749.55,168.50 L750.90,170.50 L752.25,172.50 L753.61,174.50 L754.95,176.50 L756.28,178.50 L757.57,180.50 L758.83,182.50 L760.07,184.50 L761.28,186.50 L762.48,188.50 L763.68,190.50 L764.88,192.50 L766.09,194.50 L767.32,196.50 L768.55,198.50 L769.79,200.50 L771.04,202.50 L772.29,204.50 L773.54,206.50 L774.79,208.50 L776.04,210.50 L777.29,212.50 L778.54,214.50 L779.78,216.50 L781.01,218.50 L782.23,220.50 L783.42,222.50 L784.58,224.50 L785.70,226.50 L786.76,228.50 L787.77,230.50 L788.71,232.50 L789.58,234.50 L790.38,236.50 L791.12,238.50 L791.79,240.50 L792.40,242.50 L792.94,244.50 L793.42,246.50 L793.84,248.50 L794.20,250.50 L794.50,252.50 L794.75,254.50 L794.95,256.50 L795.11,258.50 L795.24,260.50 L795.33,262.50 L795.39,264.50 L795.42,266.50 L795.41,268.50 L795.38,270.50 L795.32,272.50 L795.22,274.50 L795.09,276.50 L794.93,278.50 L794.73,280.50 L794.50,282.50 L794.23,284.50 L793.93,286.50 L793.60,288.50 L793.24,290.50 L792.85,292.50 L792.43,294.50 L791.99,296.50 L791.52,298.50 L791.03,300.50 L790.52,302.50 L789.99,304.50 L789.44,306.50 L788.88,308.50 L788.31,310.50 L787.72,312.50 L787.12,314.50 L786.52,316.50 L785.90,318.50 L785.28,320.50 L784.64,322.50 L784.00,324.50 L783.36,326.50 L782.71,328.50 L782.07,330.50 L781.43,332.50 L780.79,334.50 L780.16,336.50 L779.55,338.50 L778.94,340.50 L778.35,342.50 L777.77,344.50 L777.21,346.50 L775.83,351.50 L774.50,356.50 L773.19,361.50 L771.90,366.50 L770.62,371.50 L769.34,376.50 L768.08,381.50 L766.83,386.50 L765.59,391.50 L764.36,396.50 L763.15,401.50 L761.94,406.50 L760.75,411.50 L759.57,416.50 L758.42,421.50 L757.30,426.50 L756.21,431.50 L755.14,436.50 L754.11,441.50 L753.10,446.50 L752.12,451.50 L751.17,456.50 L750.25,461.50 L749.34,466.50 L748.46,471.50 L747.62,476.50 L746.81,481.50 L746.05,486.50 L745.34,491.50 L744.68,496.50 L744.05,501.50 L743.46,506.50 L742.90,511.50 L742.37,516.50 L741.86,521.50 L741.38,526.50 L740.92,531.50 L740.49,536.50 L740.08,541.50 L739.68,546.50 L739.31,551.50 L738.95,556.50 L738.62,561.50 L738.31,566.50 L738.01,571.50 L737.72,576.50 L737.45,581.50 L737.18,586.50 L736.93,591.50 L736.68,596.50 L736.43,601.50 L736.18,606.50 L735.94,611.50 L735.70,616.50 L735.47,621.50 L735.23,626.50 L735.01,631.50 L734.78,636.50 L734.56,641.50 L734.35,646.50 L734.13,651.50 L733.93,656.50 L733.72,661.50 L733.53,666.50 L733.34,671.50 L733.15,676.50 L732.96,681.50 L732.78,686.50 L732.60,691.50 L732.43,696.50 L732.25,701.50 L732.08,706.50 L731.92,711.50 L731.75,716.50 L731.59,721.50 L731.44,726.50 L731.28,731.50 L731.14,736.50 L730.99,741.50 L730.85,746.50 L730.72,751.50 L730.59,756.50 L730.47,761.50 L730.35,766.50 L730.24,771.50 L730.13,776.50 L730.03,781.50 L729.93,786.50 L729.84,791.50 L729.74,796.50 L729.65,801.50 L729.56,806.50 L729.46,811.50 L729.37,816.50 L729.27,821.50 L729.17,826.50 L729.07,831.50 L728.97,836.50 L728.86,841.50 L728.76,846.50 L728.66,851.50 L728.55,856.50 L728.45,861.50 L728.34,866.50 L728.23,871.50 L728.12,876.50 L728.00,881.50 L727.87,886.50 L727.74,891.50 L727.59,896.50 L727.44,901.50 L727.26,906.50 L727.07,911.50 L726.86,916.50 L726.64,921.50 L726.42,926.50 L726.18,931.50 L725.94,936.50 L725.70,941.50 L725.47,946.50 L725.23,951.50 L725.00,956.50 L724.77,961.50 L724.54,966.50 L724.31,971.50 L724.06,976.50 L723.81,981.50 L723.56,986.50 L723.29,991.50 L723.02,996.50 L722.76,1001.50 L722.50,1006.50 L722.25,1011.50 L722.02,1016.50 L721.80,1021.50 L721.58,1026.50 L721.38,1031.50 L721.17,1036.50 L720.98,1041.50 L720.79,1046.50 L720.61,1051.50 L720.44,1056.50 L720.28,1061.50 L720.16,1066.50 L720.10,1069.50 L708.90,1069.50 L708.84,1066.50 L708.72,1061.50 L708.56,1056.50 L708.39,1051.50 L708.21,1046.50 L708.02,1041.50 L707.83,1036.50 L707.62,1031.50 L707.42,1026.50 L707.20,1021.50 L706.98,1016.50 L706.75,1011.50 L706.50,1006.50 L706.24,1001.50 L705.98,996.50 L705.71,991.50 L705.44,986.50 L705.19,981.50 L704.94,976.50 L704.69,971.50 L704.46,966.50 L704.23,961.50 L704.00,956.50 L703.77,951.50 L703.53,946.50 L703.30,941.50 L703.06,936.50 L702.82,931.50 L702.58,926.50 L702.36,921.50 L702.14,916.50 L701.93,911.50 L701.74,906.50 L701.56,901.50 L701.41,896.50 L701.26,891.50 L701.13,886.50 L701.00,881.50 L700.88,876.50 L700.77,871.50 L700.66,866.50 L700.55,861.50 L700.45,856.50 L700.34,851.50 L700.24,846.50 L700.14,841.50 L700.03,836.50 L699.93,831.50 L699.83,826.50 L699.73,821.50 L699.63,816.50 L699.54,811.50 L699.44,806.50 L699.35,801.50 L699.26,796.50 L699.16,791.50 L699.07,786.50 L698.97,781.50 L698.87,776.50 L698.76,771.50 L698.65,766.50 L698.53,761.50 L698.41,756.50 L698.28,751.50 L698.15,746.50 L698.01,741.50 L697.86,736.50 L697.72,731.50 L697.56,726.50 L697.41,721.50 L697.25,716.50 L697.08,711.50 L696.92,706.50 L696.75,701.50 L696.57,696.50 L696.40,691.50 L696.22,686.50 L696.04,681.50 L695.85,676.50 L695.66,671.50 L695.47,666.50 L695.28,661.50 L695.07,656.50 L694.87,651.50 L694.65,646.50 L694.44,641.50 L694.22,636.50 L693.99,631.50 L693.77,626.50 L693.53,621.50 L693.30,616.50 L693.06,611.50 L692.82,606.50 L692.57,601.50 L692.32,596.50 L692.07,591.50 L691.82,586.50 L691.55,581.50 L691.28,576.50 L690.99,571.50 L690.69,566.50 L690.38,561.50 L690.05,556.50 L689.69,551.50 L689.32,546.50 L688.92,541.50 L688.51,536.50 L688.08,531.50 L687.62,526.50 L687.14,521.50 L686.63,516.50 L686.10,511.50 L685.54,506.50 L684.95,501.50 L684.32,496.50 L683.66,491.50 L682.95,486.50 L682.19,481.50 L681.38,476.50 L680.54,471.50 L679.66,466.50 L678.75,461.50 L677.83,456.50 L676.88,451.50 L675.90,446.50 L674.89,441.50 L673.86,436.50 L672.79,431.50 L671.70,426.50 L670.58,421.50 L669.43,416.50 L668.25,411.50 L667.06,406.50 L665.85,401.50 L664.64,396.50 L663.41,391.50 L662.17,386.50 L660.92,381.50 L659.66,376.50 L658.38,371.50 L657.10,366.50 L655.81,361.50 L654.50,356.50 L653.17,351.50 L651.79,346.50 L651.23,344.50 L650.65,342.50 L650.06,340.50 L649.45,338.50 L648.84,336.50 L648.21,334.50 L647.57,332.50 L646.93,330.50 L646.29,328.50 L645.64,326.50 L645.00,324.50 L644.36,322.50 L643.72,320.50 L643.10,318.50 L642.48,316.50 L641.88,314.50 L641.28,312.50 L640.69,310.50 L640.12,308.50 L639.56,306.50 L639.01,304.50 L638.48,302.50 L637.97,300.50 L637.48,298.50 L637.01,296.50 L636.57,294.50 L636.15,292.50 L635.76,290.50 L635.40,288.50 L635.07,286.50 L634.77,284.50 L634.50,282.50 L634.27,280.50 L634.07,278.50 L633.91,276.50 L633.78,274.50 L633.68,272.50 L633.62,270.50 L633.59,268.50 L633.58,266.50 L633.61,264.50 L633.67,262.50 L633.76,260.50 L633.89,258.50 L634.05,256.50 L634.25,254.50 L634.50,252.50 L634.80,250.50 L635.16,248.50 L635.58,246.50 L636.06,244.50 L636.60,242.50 L637.21,240.50 L637.88,238.50 L638.62,236.50 L639.42,234.50 L640.29,232.50 L641.23,230.50 L642.24,228.50 L643.30,226.50 L644.42,224.50 L645.58,222.50 L646.77,220.50 L647.99,218.50 L649.22,216.50 L650.46,214.50 L651.71,212.50 L652.96,210.50 L654.21,208.50 L655.46,206.50 L656.71,204.50 L657.96,202.50 L659.21,200.50 L660.45,198.50 L661.68,196.50 L662.91,194.50 L664.12,192.50 L665.32,190.50 L666.52,188.50 L667.72,186.50 L668.93,184.50 L670.17,182.50 L671.43,180.50 L672.72,178.50 L674.05,176.50 L675.39,174.50 L676.75,172.50 L678.10,170.50 L679.45,168.50 L680.77,166.50 L682.06,164.50 L683.33,162.50 L684.56,160.50 L685.77,158.50 L686.96,156.50 L688.12,154.50 L689.25,152.50 L690.36,150.50 L691.44,148.50 L692.49,146.50 L693.51,144.50 L694.50,142.50 L695.47,140.50 L696.41,138.50 L697.34,136.50 L698.24,134.50 L699.14,132.50 L700.03,130.50 L700.90,128.50 L701.77,126.50 L702.63,124.50 L703.47,122.50 L704.29,120.50 L705.07,118.50 L705.81,116.50 L706.51,114.50 L707.16,112.50 L707.76,110.50 L708.31,108.50 L708.81,106.50 L709.27,104.50 L709.69,102.50 L710.08,100.50 L710.45,98.50 L710.79,96.50 L711.11,94.50 L711.42,92.50 L711.71,90.50 L711.98,88.50 L712.24,86.50 L712.48,84.50 L712.71,82.50 L712.91,80.50 L713.10,78.50 L713.26,76.50 L713.40,74.50 L713.53,72.50 L713.65,70.50 L713.75,68.50 L713.85,66.50 L713.94,64.50 L714.02,62.50 L714.09,60.50 L714.17,58.50 L714.24,56.50 L714.30,54.50 L714.36,52.50 L714.41,50.50 L714.46,48.50 Z" fill="#FAB1F1" stroke="#333333" stroke-width="3.7" stroke-linejoin="round"/>
<line x1="714.50" y1="50.5" x2="714.50" y2="263.2" stroke="#333333" stroke-width="3.7"/>
<line x1="714.50" y1="565.2" x2="714.50" y2="1020.0" stroke="#333333" stroke-width="3.7"/>
<rect x="704.90" y="263.2" width="19.2" height="302.0" fill="#F564E3" stroke="#333333" stroke-width="3.7" stroke-linejoin="miter"/>
<line x1="704.90" y1="363.0" x2="724.10" y2="363.0" stroke="#333333" stroke-width="7.4"/>
<line x1="714.50" y1="1014.5" x2="714.50" y2="1376.7" stroke="#333333" stroke-width="3.7"/>
<g fill="#333333"><circle cx="714.50" cy="1376.7" r="9.3"/><circle cx="714.50" cy="1365.6" r="9.3"/><circle cx="714.50" cy="1355.4" r="9.3"/><circle cx="714.50" cy="1346.4" r="9.3"/><circle cx="714.50" cy="1330.6" r="9.3"/><circle cx="714.50" cy="1325.5" r="9.3"/><circle cx="714.50" cy="1320.5" r="9.3"/><circle cx="714.50" cy="1316.0" r="9.3"/><circle cx="714.50" cy="1312.5" r="9.3"/><circle cx="714.50" cy="1309.5" r="9.3"/><circle cx="714.50" cy="1306.5" r="9.3"/><circle cx="714.50" cy="1303.5" r="9.3"/><circle cx="714.50" cy="1300.5" r="9.3"/><circle cx="714.50" cy="1297.5" r="9.3"/><circle cx="714.50" cy="1294.5" r="9.3"/><circle cx="714.50" cy="1291.5" r="9.3"/><circle cx="714.50" cy="1288.5" r="9.3"/><circle cx="714.50" cy="1285.5" r="9.3"/><circle cx="714.50" cy="1282.5" r="9.3"/><circle cx="714.50" cy="1279.5" r="9.3"/><circle cx="714.50" cy="1276.5" r="9.3"/><circle cx="714.50" cy="1273.5" r="9.3"/><circle cx="714.50" cy="1270.5" r="9.3"/><circle cx="714.50" cy="1267.5" r="9.3"/><circle cx="714.50" cy="1264.5" r="9.3"/><circle cx="714.50" cy="1261.5" r="9.3"/><circle cx="714.50" cy="1258.5" r="9.3"/><circle cx="714.50" cy="1255.5" r="9.3"/><circle cx="714.50" cy="1252.5" r="9.3"/><circle cx="714.50" cy="1249.5" r="9.3"/><circle cx="714.50" cy="1246.5" r="9.3"/><circle cx="714.50" cy="1243.5" r="9.3"/><circle cx="714.50" cy="1240.5" r="9.3"/><circle cx="714.50" cy="1237.5" r="9.3"/><circle cx="714.50" cy="1234.5" r="9.3"/><circle cx="714.50" cy="1231.5" r="9.3"/><circle cx="714.50" cy="1228.5" r="9.3"/><circle cx="714.50" cy="1225.5" r="9.3"/><circle cx="714.50" cy="1222.5" r="9.3"/><circle cx="714.50" cy="1219.5" r="9.3"/><circle cx="714.50" cy="1216.5" r="9.3"/><circle cx="714.50" cy="1213.5" r="9.3"/><circle cx="714.50" cy="1210.5" r="9.3"/><circle cx="714.50" cy="1207.5" r="9.3"/><circle cx="714.50" cy="1204.5" r="9.3"/><circle cx="714.50" cy="1201.5" r="9.3"/><circle cx="714.50" cy="1198.5" r="9.3"/><circle cx="714.50" cy="1195.5" r="9.3"/><circle cx="714.50" cy="1192.5" r="9.3"/><circle cx="714.50" cy="1189.5" r="9.3"/><circle cx="714.50" cy="1186.5" r="9.3"/><circle cx="714.50" cy="1183.5" r="9.3"/><circle cx="714.50" cy="1180.5" r="9.3"/><circle cx="714.50" cy="1177.5" r="9.3"/><circle cx="714.50" cy="1174.5" r="9.3"/><circle cx="714.50" cy="1171.5" r="9.3"/><circle cx="714.50" cy="1168.5" r="9.3"/><circle cx="714.50" cy="1165.5" r="9.3"/><circle cx="714.50" cy="1162.5" r="9.3"/><circle cx="714.50" cy="1159.5" r="9.3"/><circle cx="714.50" cy="1156.5" r="9.3"/><circle cx="714.50" cy="1153.5" r="9.3"/><circle cx="714.50" cy="1150.5" r="9.3"/><circle cx="714.50" cy="1147.5" r="9.3"/><circle cx="714.50" cy="1144.5" r="9.3"/><circle cx="714.50" cy="1141.5" r="9.3"/><circle cx="714.50" cy="1138.5" r="9.3"/><circle cx="714.50" cy="1135.5" r="9.3"/><circle cx="714.50" cy="1132.5" r="9.3"/><circle cx="714.50" cy="1129.5" r="9.3"/><circle cx="714.50" cy="1126.5" r="9.3"/><circle cx="714.50" cy="1123.5" r="9.3"/><circle cx="714.50" cy="1120.5" r="9.3"/><circle cx="714.50" cy="1117.5" r="9.3"/><circle cx="714.50" cy="1114.5" r="9.3"/><circle cx="714.50" cy="1111.5" r="9.3"/><circle cx="714.50" cy="1108.5" r="9.3"/><circle cx="714.50" cy="1105.5" r="9.3"/><circle cx="714.50" cy="1102.5" r="9.3"/><circle cx="714.50" cy="1099.5" r="9.3"/><circle cx="714.50" cy="1096.5" r="9.3"/><circle cx="714.50" cy="1093.5" r="9.3"/><circle cx="714.50" cy="1090.5" r="9.3"/><circle cx="714.50" cy="1087.5" r="9.3"/><circle cx="714.50" cy="1084.5" r="9.3"/><circle cx="714.50" cy="1081.5" r="9.3"/><circle cx="714.50" cy="1078.5" r="9.3"/><circle cx="714.50" cy="1075.5" r="9.3"/><circle cx="714.50" cy="1072.5" r="9.3"/><circle cx="714.50" cy="1069.5" r="9.3"/><circle cx="714.50" cy="1066.5" r="9.3"/><circle cx="714.50" cy="1063.5" r="9.3"/><circle cx="714.50" cy="1060.5" r="9.3"/><circle cx="714.50" cy="1057.5" r="9.3"/><circle cx="714.50" cy="1054.5" r="9.3"/><circle cx="714.50" cy="1051.5" r="9.3"/><circle cx="714.50" cy="1048.5" r="9.3"/><circle cx="714.50" cy="1045.5" r="9.3"/><circle cx="714.50" cy="1042.5" r="9.3"/><circle cx="714.50" cy="1039.5" r="9.3"/><circle cx="714.50" cy="1036.5" r="9.3"/><circle cx="714.50" cy="1033.5" r="9.3"/><circle cx="714.50" cy="1030.5" r="9.3"/><circle cx="714.50" cy="1027.5" r="9.3"/><circle cx="714.50" cy="1024.5" r="9.3"/><circle cx="714.50" cy="1023.5" r="9.3"/></g>
<line x1="213.1" y1="16.8" x2="213.1" y2="1472.7" stroke="#000" stroke-width="4.6"/>
<line x1="210.8" y1="1470.4" x2="980.3" y2="1470.4" stroke="#000" stroke-width="4.7"/>
<line x1="202" y1="228.9" x2="211" y2="228.9" stroke="#2a2a2a" stroke-width="4.2"/>
<text transform="translate(73.71,241.20) scale(0.9862,1)" font-size="42.8">1.0000</text>
<line x1="202" y1="534.0" x2="211" y2="534.0" stroke="#2a2a2a" stroke-width="4.2"/>
<text transform="translate(75.49,543.40) scale(1.0018,1)" font-size="42.8">0.1000</text>
<line x1="202" y1="839.2" x2="211" y2="839.2" stroke="#2a2a2a" stroke-width="4.2"/>
<text transform="translate(75.49,850.50) scale(1.0018,1)" font-size="42.8">0.0100</text>
<line x1="202" y1="1144.7" x2="211" y2="1144.7" stroke="#2a2a2a" stroke-width="4.2"/>
<text transform="translate(73.09,1157.20) scale(1.0045,1)" font-size="42.8">0.0010</text>
<line x1="202" y1="1450.0" x2="211" y2="1450.0" stroke="#2a2a2a" stroke-width="4.2"/>
<text transform="translate(80.13,1462.10) scale(0.9813,1)" font-size="42.8">0.0001</text>
<line x1="328.8" y1="1472" x2="328.8" y2="1481" stroke="#2a2a2a" stroke-width="4.2"/>
<text transform="translate(306.62,1518.30) scale(1.0132,1)" font-size="42.5">L0</text>
<line x1="521.7" y1="1472" x2="521.7" y2="1481" stroke="#2a2a2a" stroke-width="4.2"/>
<text transform="translate(500.38,1518.30) scale(0.9596,1)" font-size="42.5">L1</text>
<line x1="714.3" y1="1472" x2="714.3" y2="1481" stroke="#2a2a2a" stroke-width="4.2"/>
<text transform="translate(691.85,1518.30) scale(0.9853,1)" font-size="42.5">L4</text>
<line x1="907.0" y1="1472" x2="907.0" y2="1481" stroke="#2a2a2a" stroke-width="4.2"/>
<text transform="translate(33.50,833.54) rotate(-90) scale(0.9853,1)" font-size="42.5">log10(FPKM+1)</text>
<text transform="translate(930.26,40.00) scale(1.0011,1)" font-size="43.5">A</text>
<text transform="translate(816.98,487.30) scale(1.0106,1)" font-size="42.5">Group</text>
<rect x="823.3" y="527" width="65.7" height="201.7" fill="#a6a6a6"/>
<rect x="825.0" y="528.7" width="62.3" height="61.8" fill="#80DFE1" stroke="#474747" stroke-width="3.4"/>
<line x1="856" y1="529.0" x2="856" y2="590.2" stroke="#333333" stroke-width="3.6"/>
<rect x="830.8" y="542.8" width="50.3" height="33.6" fill="#00BFC4" stroke="#333333" stroke-width="3.6" stroke-linejoin="round"/>
<line x1="830.8" y1="559.6" x2="881.1" y2="559.6" stroke="#333333" stroke-width="3.6"/>
<text transform="translate(904.21,578.00) scale(1.0200,1)" font-size="42.5">L0</text>
<rect x="825.0" y="597.3" width="62.3" height="61.8" fill="#B0CEFF" stroke="#474747" stroke-width="3.4"/>
<line x1="856" y1="597.6" x2="856" y2="658.8" stroke="#333333" stroke-width="3.6"/>
<rect x="830.8" y="611.4" width="50.3" height="33.6" fill="#619CFF" stroke="#333333" stroke-width="3.6" stroke-linejoin="round"/>
<line x1="830.8" y1="628.2" x2="881.1" y2="628.2" stroke="#333333" stroke-width="3.6"/>
<text transform="translate(906.36,641.00) scale(0.9734,1)" font-size="42.5">L1</text>
<rect x="825.0" y="665.0" width="62.3" height="61.8" fill="#FAB1F1" stroke="#474747" stroke-width="3.4"/>
<line x1="856" y1="665.3" x2="856" y2="726.5" stroke="#333333" stroke-width="3.6"/>
<rect x="830.8" y="679.1" width="50.3" height="33.6" fill="#F564E3" stroke="#333333" stroke-width="3.6" stroke-linejoin="round"/>
<line x1="830.8" y1="695.9" x2="881.1" y2="695.9" stroke="#333333" stroke-width="3.6"/>
<text transform="translate(906.34,708.40) scale(0.9963,1)" font-size="42.5">L4</text>
</g>
<g id="panelB">
<rect x="1318.5" y="335.1" width="51.6" height="196.9" fill="#C4DCF1" stroke="#808080" stroke-width="3"/>
<rect x="1383.2" y="219.6" width="52.1" height="312.4" fill="#F4C4F5" stroke="#808080" stroke-width="3"/>
<rect x="1547.5" y="341.5" width="51.4" height="190.5" fill="#C4DCF1" stroke="#808080" stroke-width="3"/>
<rect x="1612.5" y="197.1" width="52.0" height="334.9" fill="#F4C4F5" stroke="#808080" stroke-width="3"/>
<rect x="1776.5" y="275.4" width="49.9" height="256.6" fill="#C4DCF1" stroke="#808080" stroke-width="3"/>
<rect x="1839.5" y="413.3" width="51.7" height="118.7" fill="#F4C4F5" stroke="#808080" stroke-width="3"/>
<text transform="translate(1311.32,305.80) scale(1.0603,1)" font-size="41.3">307</text>
<text transform="translate(1374.93,192.60) scale(1.0552,1)" font-size="41.3">487</text>
<text transform="translate(1538.15,312.50) scale(1.0566,1)" font-size="41.3">297</text>
<text transform="translate(1604.48,169.20) scale(1.0610,1)" font-size="41.3">522</text>
<text transform="translate(1768.73,247.00) scale(1.0474,1)" font-size="41.3">400</text>
<text transform="translate(1834.28,385.40) scale(1.0303,1)" font-size="41.3">185</text>
<line x1="1263.3" y1="16.9" x2="1263.3" y2="534.4" stroke="#000" stroke-width="4.3"/>
<line x1="1261.2" y1="532.2" x2="1948" y2="532.2" stroke="#000" stroke-width="4.6"/>
<line x1="1263.3" y1="18.9" x2="1275.0" y2="18.9" stroke="#000" stroke-width="4.1"/>
<text transform="translate(1162.68,29.90) scale(1.0450,1)" font-size="41.3">800</text>
<line x1="1263.3" y1="147.2" x2="1275.0" y2="147.2" stroke="#000" stroke-width="4.1"/>
<text transform="translate(1162.05,158.20) scale(1.0555,1)" font-size="41.3">600</text>
<line x1="1263.3" y1="275.5" x2="1275.0" y2="275.5" stroke="#000" stroke-width="4.1"/>
<text transform="translate(1162.74,286.50) scale(1.0407,1)" font-size="41.3">400</text>
<line x1="1263.3" y1="403.8" x2="1275.0" y2="403.8" stroke="#000" stroke-width="4.1"/>
<text transform="translate(1161.74,414.80) scale(1.0572,1)" font-size="41.3">200</text>
<text transform="translate(1203.08,546.00) scale(1.1110,1)" font-size="41.3">0</text>
<text transform="translate(1297.87,595.80) scale(0.9974,1)" font-size="41.3">L4 vs. L1</text>
<text transform="translate(1524.36,595.80) scale(1.0045,1)" font-size="41.3">L0 vs. L1</text>
<text transform="translate(1753.45,595.80) scale(1.0106,1)" font-size="41.3">L4 vs. L0</text>
<text transform="translate(1133.10,430.34) rotate(-90) scale(0.9997,1)" font-size="41.3">Number of DEGs</text>
<rect x="1395.2" y="14.7" width="22.1" height="22.3" fill="#C4DCF1" stroke="#7f7f7f" stroke-width="3.4"/>
<rect x="1395.2" y="71.6" width="22.1" height="20.8" fill="#F4C4F5" stroke="#7f7f7f" stroke-width="3.4"/>
<text transform="translate(1424.27,38.00) scale(0.9970,1)" font-size="41.3">Down-regulated</text>
<text transform="translate(1426.98,94.60) scale(0.9888,1)" font-size="41.3">Up-regulated</text>
<text transform="translate(1889.47,43.70) scale(1.0489,1)" font-size="42.5">B</text>
</g>
<g id="panelC">
<defs>
<clipPath id="cT"><circle cx="1487.5" cy="980.6" r="216.0"/></clipPath>
<clipPath id="cL"><circle cx="1351.5" cy="1218.0" r="216.0"/></clipPath>
<clipPath id="cR"><circle cx="1625.2" cy="1220.3" r="216.0"/></clipPath>
</defs>
<circle cx="1487.5" cy="980.6" r="216.0" fill="#A9E6E6"/>
<circle cx="1351.5" cy="1218.0" r="216.0" fill="#D1DBF8"/>
<circle cx="1625.2" cy="1220.3" r="216.0" fill="#F2C6EC"/>
<g clip-path="url(#cT)"><circle cx="1351.5" cy="1218.0" r="216.0" fill="#B7D5F0"/></g>
<g clip-path="url(#cT)"><circle cx="1625.2" cy="1220.3" r="216.0" fill="#D9BFE4"/></g>
<g clip-path="url(#cL)"><circle cx="1625.2" cy="1220.3" r="216.0" fill="#CBC8F0"/></g>
<g clip-path="url(#cT)"><g clip-path="url(#cL)"><circle cx="1625.2" cy="1220.3" r="216.0" fill="#C6C6EE"/></g></g>
<defs><clipPath id="outL"><path clip-rule="evenodd" d="M0,0H2010V1522H0Z M1135.5,1218.0 a216.0,216.0 0 1,0 432.0,0 a216.0,216.0 0 1,0 -432.0,0Z"/></clipPath></defs>
<circle cx="1487.5" cy="980.6" r="215.4" fill="none" stroke="#fff" stroke-opacity="0.10" stroke-width="1.7"/>
<circle cx="1625.2" cy="1220.3" r="215.4" fill="none" stroke="#fff" stroke-opacity="0.80" stroke-width="1.7" clip-path="url(#outL)"/>
<circle cx="1625.2" cy="1220.3" r="215.4" fill="none" stroke="#fff" stroke-opacity="0.30" stroke-width="1.7" clip-path="url(#cL)"/>
<circle cx="1351.5" cy="1218.0" r="215.4" fill="none" stroke="#fff" stroke-opacity="0.85" stroke-width="1.7"/>
<text transform="translate(1455.35,948.90) scale(1.0115,1)" font-size="40.8">215</text>
<text transform="translate(1344.28,1090.60) scale(0.9940,1)" font-size="40.8">234</text>
<text transform="translate(1570.16,1091.00) scale(0.9644,1)" font-size="40.8">106</text>
<text transform="translate(1455.98,1152.00) scale(1.0447,1)" font-size="40.8">30</text>
<text transform="translate(1273.67,1274.00) scale(0.9977,1)" font-size="40.8">285</text>
<text transform="translate(1462.23,1271.20) scale(1.0184,1)" font-size="40.8">270</text>
<text transform="translate(1640.26,1276.40) scale(1.0012,1)" font-size="40.8">388</text>
<text transform="translate(1416.18,751.40) scale(1.0004,1)" font-size="40.8">L4 vs. L0</text>
<text transform="translate(965.18,1280.20) scale(0.9998,1)" font-size="40.8">L1 vs. L0</text>
<text transform="translate(1855.67,1285.20) scale(1.0070,1)" font-size="40.8">L4 vs. L1</text>
<text transform="translate(1913.71,752.00) scale(1.0647,1)" font-size="42">C</text>
</g>
</svg></body></html>
